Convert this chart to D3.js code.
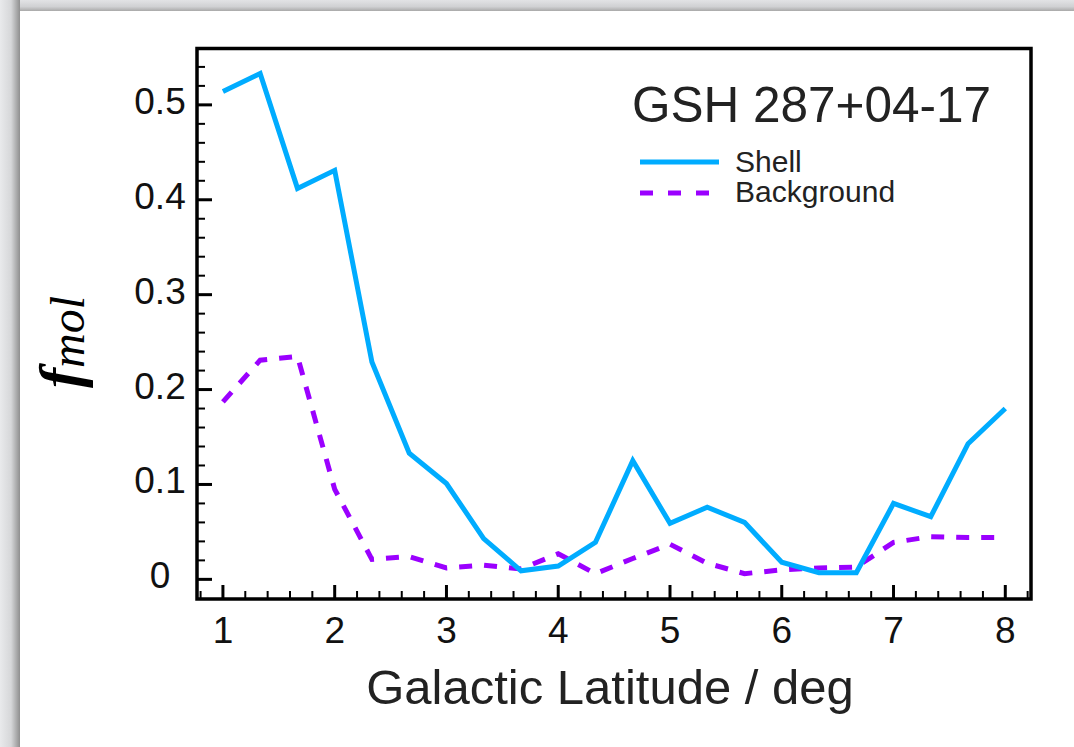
<!DOCTYPE html>
<html>
<head>
    <title>GSH 287+04-17 f_mol</title>
    <script src="https://d3js.org/d3.v7.min.js" type="text/javascript"></script>
    <style type="text/css">
        body { margin: 0; padding: 0; background: #d9d9d9; }
        svg { display: block; }
        text { font-family: "Liberation Sans", Arial, Helvetica, sans-serif; }
    </style>
</head>
<body>
<div id="chart"></div>
<script type="text/javascript">
    // data
    var latitude = [1.000, 1.333, 1.667, 2.000, 2.333, 2.667, 3.000, 3.333, 3.667, 4.000, 4.333,
                    4.667, 5.000, 5.333, 5.667, 6.000, 6.333, 6.667, 7.000, 7.333, 7.667, 8.000];
    var shell = [0.514, 0.533, 0.412, 0.431, 0.229, 0.133, 0.101, 0.043, 0.009, 0.014, 0.039,
                 0.125, 0.059, 0.076, 0.060, 0.018, 0.007, 0.007, 0.080, 0.066, 0.143, 0.180];
    var background = [0.187, 0.231, 0.235, 0.095, 0.021, 0.024, 0.012, 0.015, 0.011, 0.027, 0.006,
                      0.022, 0.037, 0.017, 0.006, 0.010, 0.012, 0.013, 0.039, 0.045, 0.044, 0.044];
    var xTicks = [1, 2, 3, 4, 5, 6, 7, 8];
    var yTicks = [0, 0.1, 0.2, 0.3, 0.4, 0.5];
    var yTickLabels = ["0", "0.1", "0.2", "0.3", "0.4", "0.5"];
    var seriesNames = ["Shell", "Background"];

    (function() {
        var W = 1074, H = 747;
        var pLeft = 197, pRight = 1031, pTop = 48.5, pBottom = 599;

        var svg = d3.select('#chart').append('svg')
            .attr('width', W)
            .attr('height', H);

        // page frame: grey surround with a shadow on the paper edge
        var defs = svg.append('defs');
        var gl = defs.append('linearGradient').attr('id', 'shadeLeft')
            .attr('x1', 0).attr('x2', 1).attr('y1', 0).attr('y2', 0);
        gl.append('stop').attr('offset', 0).attr('stop-color', '#e9eaec');
        gl.append('stop').attr('offset', 0.55).attr('stop-color', '#d6d7d9');
        gl.append('stop').attr('offset', 1).attr('stop-color', '#8f8f8f');
        var gt = defs.append('linearGradient').attr('id', 'shadeTop')
            .attr('x1', 0).attr('x2', 0).attr('y1', 0).attr('y2', 1);
        gt.append('stop').attr('offset', 0).attr('stop-color', '#e2e3e5');
        gt.append('stop').attr('offset', 0.6).attr('stop-color', '#d0d1d3');
        gt.append('stop').attr('offset', 1).attr('stop-color', '#a9a9a9');

        svg.append('rect').attr('x', 0).attr('y', 0).attr('width', W).attr('height', H).attr('fill', '#dedfe1');
        svg.append('rect').attr('x', 0).attr('y', 0).attr('width', 20).attr('height', H).attr('fill', 'url(#shadeLeft)');
        svg.append('rect').attr('x', 20).attr('y', 0).attr('width', W - 20).attr('height', 11).attr('fill', 'url(#shadeTop)');
        svg.append('rect').attr('x', 20).attr('y', 11).attr('width', W - 20).attr('height', H - 11).attr('fill', '#ffffff');

        var x = d3.scaleLinear().domain([0.768, 8.23]).range([pLeft, pRight]);
        var y = d3.scaleLinear().domain([-0.0207, 0.5594]).range([pBottom, pTop]);

        var g = svg.append('g');

        // minor ticks
        var xMinor = d3.range(0.8, 8.21, 0.2).filter(function(v) { return Math.abs(v - Math.round(v)) > 0.01; });
        var yMinor = d3.range(0.02, 0.55, 0.02).filter(function(v) { return Math.abs(v * 10 - Math.round(v * 10)) > 0.01; });

        g.selectAll('.xminor').data(xMinor).enter().append('line')
            .attr('x1', function(d) { return x(d); }).attr('x2', function(d) { return x(d); })
            .attr('y1', pBottom).attr('y2', pBottom - 8)
            .attr('stroke', '#000').attr('stroke-width', 2);
        g.selectAll('.xmajor').data(xTicks).enter().append('line')
            .attr('x1', function(d) { return x(d); }).attr('x2', function(d) { return x(d); })
            .attr('y1', pBottom).attr('y2', pBottom - 14)
            .attr('stroke', '#000').attr('stroke-width', 3);
        g.selectAll('.yminor').data(yMinor).enter().append('line')
            .attr('y1', function(d) { return y(d); }).attr('y2', function(d) { return y(d); })
            .attr('x1', pLeft).attr('x2', pLeft + 8)
            .attr('stroke', '#000').attr('stroke-width', 2);
        g.selectAll('.ymajor').data(yTicks).enter().append('line')
            .attr('y1', function(d) { return y(d); }).attr('y2', function(d) { return y(d); })
            .attr('x1', pLeft).attr('x2', pLeft + 15)
            .attr('stroke', '#000').attr('stroke-width', 3);

        // tick labels
        g.selectAll('.xlab').data(xTicks).enter().append('text')
            .attr('x', function(d) { return x(d); })
            .attr('y', pBottom + 44)
            .attr('text-anchor', 'middle')
            .attr('font-size', 37)
            .attr('fill', '#111')
            .text(function(d) { return d; });
        g.selectAll('.ylab').data(yTicks).enter().append('text')
            .attr('x', 160)
            .attr('y', function(d) { return y(d) + 9; })
            .attr('text-anchor', 'middle')
            .attr('font-size', 37)
            .attr('fill', '#111')
            .text(function(d, i) { return yTickLabels[i]; });

        // lines
        var line = function(vals) {
            return d3.line()
                .x(function(d, i) { return x(latitude[i]); })
                .y(function(d) { return y(d); })(vals);
        };
        g.append('path').attr('d', line(background))
            .attr('fill', 'none').attr('stroke', '#9b00ff').attr('stroke-width', 5)
            .attr('stroke-dasharray', '13,12');
        g.append('path').attr('d', line(shell))
            .attr('fill', 'none').attr('stroke', '#00acff').attr('stroke-width', 5)
            .attr('stroke-linejoin', 'miter');

        // frame
        g.append('rect').attr('x', pLeft).attr('y', pTop)
            .attr('width', pRight - pLeft).attr('height', pBottom - pTop)
            .attr('fill', 'none').attr('stroke', '#000').attr('stroke-width', 3.5);

        // title and legend
        g.append('text').attr('x', 632).attr('y', 122)
            .attr('font-size', 49.5).attr('fill', '#222')
            .text('GSH 287+04-17');
        var legend = g.append('g');
        legend.append('line').attr('x1', 640).attr('x2', 719).attr('y1', 162).attr('y2', 162)
            .attr('stroke', '#00acff').attr('stroke-width', 5);
        legend.append('line').attr('x1', 640).attr('x2', 712).attr('y1', 193).attr('y2', 193)
            .attr('stroke', '#9b00ff').attr('stroke-width', 5).attr('stroke-dasharray', '13,15');
        legend.selectAll('text').data(seriesNames).enter().append('text')
            .attr('x', 735)
            .attr('y', function(d, i) { return 172 + i * 30; })
            .attr('font-size', 30).attr('fill', '#222')
            .text(function(d) { return d; });

        // axis titles
        g.append('text').attr('x', 610).attr('y', 704)
            .attr('text-anchor', 'middle').attr('font-size', 49).attr('fill', '#222')
            .text('Galactic Latitude / deg');
        var ylab = g.append('text')
            .attr('transform', 'translate(80,342) rotate(-90)')
            .attr('text-anchor', 'middle')
            .style('font-family', '"Liberation Serif", "DejaVu Serif", serif')
            .style('font-style', 'italic');
        ylab.append('tspan').attr('font-size', 60).attr('font-weight', 'bold').text('f');
        ylab.append('tspan').attr('font-size', 48).attr('dy', 4).text('mol');
    })();
</script>
</body>
</html>
